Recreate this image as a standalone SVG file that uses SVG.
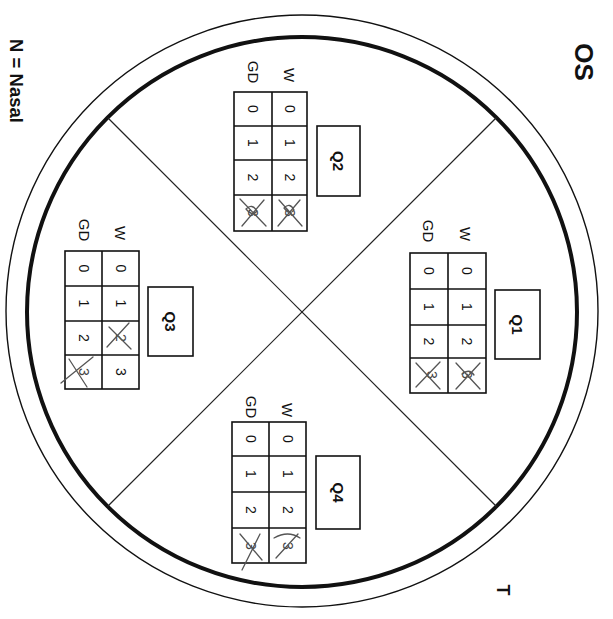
<svg xmlns="http://www.w3.org/2000/svg" width="613" height="619" viewBox="0 0 613 619">
<style>
.t{font-family:"Liberation Sans",Arial,sans-serif;fill:#111;text-anchor:middle;dominant-baseline:central}
.d{font-size:14px}
.lab{font-size:15px}
.q{font-size:15px;font-weight:bold}
.cell{fill:none;stroke:#111;stroke-width:1.6}
.box{fill:#fff;stroke:#111;stroke-width:1.6}
.pen{fill:none;stroke:#555;stroke-width:1.3;stroke-linecap:round}
.hw{font-family:"Liberation Sans",Arial,sans-serif;fill:#444;text-anchor:middle;dominant-baseline:central;font-size:14px}
</style>
<rect width="613" height="619" fill="#fff"/>
<g id="rings">
<circle cx="302" cy="311" r="296" fill="none" stroke="#111" stroke-width="1.4"/>
<circle cx="302" cy="312" r="275" fill="none" stroke="#111" stroke-width="4"/>
</g>
<g id="connectors" stroke="#222" stroke-width="1.2">
<line x1="107.5" y1="117.5" x2="496.5" y2="506.5"/>
<line x1="496.5" y1="117.5" x2="107.5" y2="506.5"/>
</g>
<g id="title"><text class="t" font-size="26" font-weight="bold" transform="translate(584,62) rotate(90)">OS</text></g>
<g id="legend"><text class="t" font-size="18.5" font-weight="bold" transform="translate(16,81) rotate(90)">N = Nasal</text></g>
<g id="temporal"><text class="t" font-size="18" font-weight="bold" transform="translate(503,590) rotate(90)">T</text></g>

<g id="Q2">
<rect class="box" x="317" y="126" width="43" height="70"/>
<text class="t q" transform="translate(338.5,161) rotate(90)">Q2</text>
<text class="t lab" transform="translate(289,75) rotate(90)">W</text>
<text class="t lab" transform="translate(253,72) rotate(90)">GD</text>
<g transform="translate(234,92)">
<rect class="cell" x="0" y="0" width="73" height="139"/>
<line class="cell" x1="38" y1="0" x2="38" y2="139"/>
<line class="cell" x1="0" y1="34" x2="73" y2="34"/>
<line class="cell" x1="0" y1="68" x2="73" y2="68"/>
<line class="cell" x1="0" y1="103" x2="73" y2="103"/>
<text class="t d" transform="translate(55.5,17) rotate(90)">0</text>
<text class="t d" transform="translate(19,17) rotate(90)">0</text>
<text class="t d" transform="translate(55.5,51) rotate(90)">1</text>
<text class="t d" transform="translate(19,51) rotate(90)">1</text>
<text class="t d" transform="translate(55.5,85.5) rotate(90)">2</text>
<text class="t d" transform="translate(19,85.5) rotate(90)">2</text>
<text class="hw" transform="translate(55.5,121) rotate(90)">3</text>
<text class="hw" transform="translate(19,121) rotate(90)">3</text>
<path class="pen" d="M45,108 L68,134 M66,108 L44,134 M50,116 q6,-6 10,2 q-4,6 -10,-2"/>
<path class="pen" d="M6,107 L32,134 M30,108 L8,134 M12,117 q6,-6 11,2 q-5,6 -11,-2"/>
</g>
</g>

<g id="Q1">
<rect class="box" x="495" y="290" width="45" height="69"/>
<text class="t q" transform="translate(517.5,324.5) rotate(90)">Q1</text>
<text class="t lab" transform="translate(465,234) rotate(90)">W</text>
<text class="t lab" transform="translate(428,231) rotate(90)">GD</text>
<g transform="translate(410,253)">
<rect class="cell" x="0" y="0" width="76" height="140"/>
<line class="cell" x1="38" y1="0" x2="38" y2="140"/>
<line class="cell" x1="0" y1="36" x2="76" y2="36"/>
<line class="cell" x1="0" y1="72" x2="76" y2="72"/>
<line class="cell" x1="0" y1="105" x2="76" y2="105"/>
<text class="t d" transform="translate(57,18) rotate(90)">0</text>
<text class="t d" transform="translate(19,18) rotate(90)">0</text>
<text class="t d" transform="translate(57,54) rotate(90)">1</text>
<text class="t d" transform="translate(19,54) rotate(90)">1</text>
<text class="t d" transform="translate(57,88.5) rotate(90)">2</text>
<text class="t d" transform="translate(19,88.5) rotate(90)">2</text>
<text class="hw" transform="translate(57,122) rotate(90)">3</text>
<text class="hw" transform="translate(22,122) rotate(90)">3</text>
<path class="pen" d="M46,110 L70,136 M70,110 L46,136 M52,121 q7,-6 12,1"/>
<path class="pen" d="M6,110 L30,136 M30,109 L6,134"/>
</g>
</g>

<g id="Q3">
<rect class="box" x="148" y="287" width="45" height="69"/>
<text class="t q" transform="translate(170.5,321.5) rotate(90)">Q3</text>
<text class="t lab" transform="translate(120,233) rotate(90)">W</text>
<text class="t lab" transform="translate(84,230) rotate(90)">GD</text>
<g transform="translate(65,251)">
<rect class="cell" x="0" y="0" width="74" height="138"/>
<line class="cell" x1="37" y1="0" x2="37" y2="138"/>
<line class="cell" x1="0" y1="35" x2="74" y2="35"/>
<line class="cell" x1="0" y1="70" x2="74" y2="70"/>
<line class="cell" x1="0" y1="104" x2="74" y2="104"/>
<text class="t d" transform="translate(55.5,17.5) rotate(90)">0</text>
<text class="t d" transform="translate(18.5,17.5) rotate(90)">0</text>
<text class="t d" transform="translate(55.5,52.5) rotate(90)">1</text>
<text class="t d" transform="translate(18.5,52.5) rotate(90)">1</text>
<text class="hw" transform="translate(55.5,87) rotate(90)">2</text>
<text class="t d" transform="translate(18.5,87) rotate(90)">2</text>
<text class="t d" transform="translate(55.5,121) rotate(90)">3</text>
<text class="hw" transform="translate(18.5,121) rotate(90)">3</text>
<path class="pen" d="M42,96 L64,72 M44,76 L66,98"/>
<path class="pen" d="M-4,132 L28,106 M4,108 L22,136"/>
</g>
</g>

<g id="Q4">
<rect class="box" x="316" y="456" width="44" height="73"/>
<text class="t q" transform="translate(338,492.5) rotate(90)">Q4</text>
<text class="t lab" transform="translate(287,410) rotate(90)">W</text>
<text class="t lab" transform="translate(251,407) rotate(90)">GD</text>
<g transform="translate(232,422)">
<rect class="cell" x="0" y="0" width="74" height="141"/>
<line class="cell" x1="37" y1="0" x2="37" y2="141"/>
<line class="cell" x1="0" y1="34" x2="74" y2="34"/>
<line class="cell" x1="0" y1="70" x2="74" y2="70"/>
<line class="cell" x1="0" y1="106" x2="74" y2="106"/>
<text class="t d" transform="translate(55.5,17) rotate(90)">0</text>
<text class="t d" transform="translate(18.5,17) rotate(90)">0</text>
<text class="t d" transform="translate(55.5,52) rotate(90)">1</text>
<text class="t d" transform="translate(18.5,52) rotate(90)">1</text>
<text class="t d" transform="translate(55.5,88) rotate(90)">2</text>
<text class="t d" transform="translate(18.5,88) rotate(90)">2</text>
<text class="hw" transform="translate(55.5,124) rotate(90)">3</text>
<text class="hw" transform="translate(18.5,124) rotate(90)">3</text>
<path class="pen" d="M42,116 q14,-8 26,0 M44,136 L66,112"/>
<path class="pen" d="M8,112 L30,138 M28,112 L10,148"/>
</g>
</g>
</svg>
